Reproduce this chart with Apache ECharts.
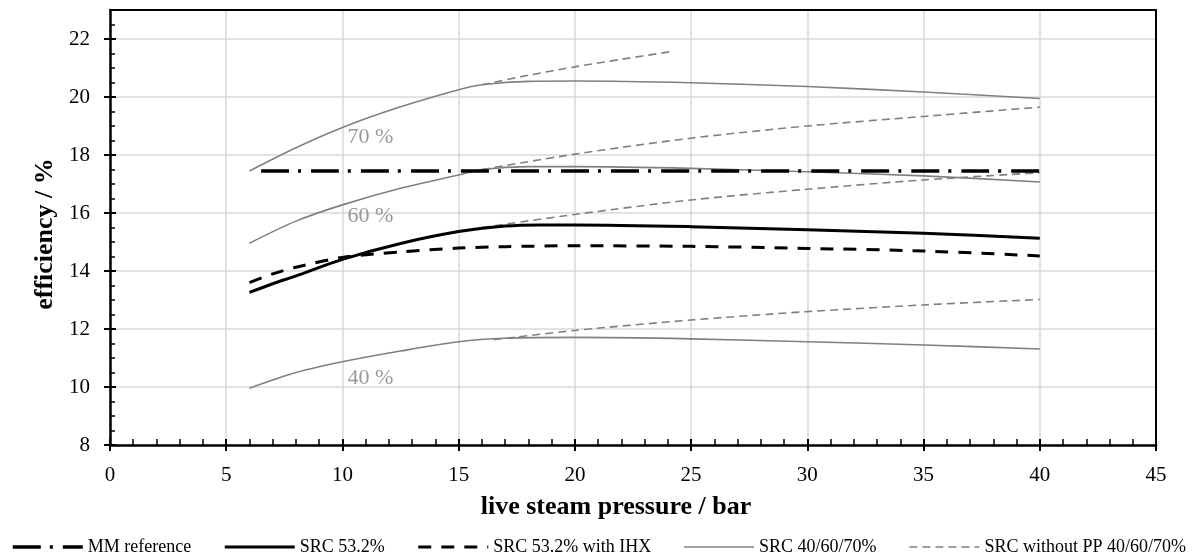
<!DOCTYPE html>
<html>
<head>
<meta charset="UTF-8">
<title>efficiency vs live steam pressure</title>
<style>
  html, body { margin: 0; padding: 0; background: #fff; }
  #chart { width: 1197px; height: 559px; }
</style>
<script src="https://cdn.jsdelivr.net/npm/echarts@6/dist/echarts.min.js"></script>
</head>
<body>
<div id="chart"></div>
<script>
// values: [pressure / bar, efficiency / %]
const mmReference = [[6.5, 17.45], [40, 17.45]];
const src532 = [[6, 13.26], [7, 13.56], [8, 13.83], [10, 14.40], [12.5, 14.95], [15, 15.36], [17, 15.55],
  [18.5, 15.59], [20, 15.59], [25, 15.53], [30, 15.42], [35, 15.30], [40, 15.13]];
const src532Ihx = [[6, 13.6], [7, 13.9], [8, 14.13], [10, 14.47], [12.5, 14.66], [15, 14.79], [17, 14.84],
  [20, 14.87], [25, 14.85], [30, 14.78], [35, 14.69], [40, 14.52]];
const src70 = [[6, 17.45], [8, 18.25], [10, 18.95], [12.5, 19.66], [15, 20.25], [16, 20.42], [18, 20.54],
  [20, 20.55], [25, 20.49], [30, 20.36], [35, 20.17], [40, 19.95]];
const src60 = [[6, 14.96], [8, 15.72], [10, 16.28], [12.5, 16.85], [15, 17.31], [16, 17.5], [18, 17.6],
  [20, 17.6], [25, 17.54], [30, 17.42], [35, 17.28], [40, 17.07]];
const src40 = [[6, 9.96], [8, 10.5], [10, 10.87], [12.5, 11.24], [15, 11.56], [17, 11.68], [20, 11.71],
  [25, 11.66], [30, 11.56], [35, 11.45], [40, 11.31]];
const noPP70 = [[16, 20.42], [18, 20.75], [20, 21.04], [22, 21.3], [24.1, 21.56]];
const noPP60 = [[16, 17.5], [20, 18.03], [25, 18.58], [30, 19.0], [35, 19.33], [40, 19.65]];
const noPP532 = [[16, 15.5], [20, 15.95], [25, 16.45], [30, 16.82], [35, 17.14], [40, 17.39]];
const noPP40 = [[16.5, 11.63], [20, 11.95], [25, 12.31], [30, 12.6], [35, 12.83], [40, 13.02]];

const curveLabels = ['70 %', '60 %', '40 %'];
const curveLabelAt = [[10.2, 18.6], [10.2, 15.9], [10.2, 10.3]];

const legendNames = ['MM reference', 'SRC 53.2%', 'SRC 53.2% with IHX', 'SRC 40/60/70%', 'SRC without PP 40/60/70%'];

const serif = "'Liberation Serif', 'Times New Roman', serif";
const gray = '#808080';

const chart = echarts.init(document.getElementById('chart'));

// a line series helper
const line = (name, data, style, z) => ({
  name: name,
  type: 'line',
  data: data,
  symbol: 'none',
  smooth: 0.3,
  lineStyle: style,
  itemStyle: { color: style.color },
  z: z || 2,
  xAxisIndex: 0,
  yAxisIndex: 0
});

// bare axis used only for its line (top / right frame)
const frameAxis = (pos, min, max) => ({
  type: 'value', position: pos, min: min, max: max,
  axisLine: { show: true, onZero: false, lineStyle: { color: '#000', width: 2 } },
  axisTick: { show: false }, axisLabel: { show: false }, splitLine: { show: false }
});

const solidGray = { color: gray, width: 1.6 };
const dashGray = { color: gray, width: 1.6, type: [8, 5] };

chart.setOption({
  animation: false,
  textStyle: { fontFamily: serif },
  grid: { left: 110, right: 41, top: 10, bottom: 114 },
  legend: {
    data: legendNames,
    left: 'center',
    top: 533,
    itemWidth: 70,
    itemHeight: 14,
    itemGap: 32,
    itemStyle: { opacity: 0 },
    lineStyle: { width: 'inherit' },
    textStyle: { fontFamily: serif, fontSize: 18, color: '#000' }
  },
  xAxis: [
    {
      type: 'value', position: 'bottom', min: 0, max: 45, interval: 5,
      name: 'live steam pressure / bar', nameLocation: 'middle', nameGap: 49,
      nameTextStyle: { fontFamily: serif, fontSize: 26, fontWeight: 'bold', color: '#000', padding: [0, 34, 0, 0] },
      axisLine: { lineStyle: { color: '#000', width: 2.5 } },
      axisTick: { show: true, inside: false, length: 6, lineStyle: { color: '#000', width: 2 } },
      axisLabel: { fontFamily: serif, fontSize: 21, color: '#000', margin: 20 },
      splitLine: { show: true, lineStyle: { color: '#d9d9d9', width: 1.5 } }
    },
    {
      type: 'value', position: 'bottom', min: 0, max: 45, interval: 5,
      axisLine: { show: false },
      axisTick: { show: true, inside: true, length: 6, lineStyle: { color: '#000', width: 2 } },
      minorTick: { show: true, splitNumber: 5, length: 6, lineStyle: { color: '#000', width: 1.5 } },
      axisLabel: { show: false },
      splitLine: { show: false }
    },
    frameAxis('top', 0, 45)
  ],
  yAxis: [
    {
      type: 'value', position: 'left', min: 8, max: 23, interval: 2,
      name: 'efficiency / %', nameLocation: 'middle', nameGap: 52,
      nameTextStyle: { fontFamily: serif, fontSize: 26, fontWeight: 'bold', color: '#000', padding: [0, 13, 0, 0] },
      axisLine: { show: true, lineStyle: { color: '#000', width: 2.5 } },
      axisTick: { show: true, inside: false, length: 6, lineStyle: { color: '#000', width: 2 } },
      axisLabel: { fontFamily: serif, fontSize: 21, color: '#000', margin: 20, showMaxLabel: false },
      splitLine: { show: true, lineStyle: { color: '#d9d9d9', width: 1.5 } }
    },
    {
      type: 'value', position: 'left', min: 8, max: 23, interval: 2,
      axisLine: { show: false },
      axisTick: { show: true, inside: true, length: 6, lineStyle: { color: '#000', width: 2 } },
      minorTick: { show: true, splitNumber: 4, length: 5, lineStyle: { color: '#000', width: 1.5 } },
      axisLabel: { show: false },
      splitLine: { show: false }
    },
    frameAxis('right', 8, 23)
  ],
  series: [
    line('SRC 40/60/70%', src70, solidGray),
    line('SRC 40/60/70%', src60, solidGray),
    line('SRC 40/60/70%', src40, solidGray),
    line('SRC without PP 40/60/70%', noPP70, dashGray),
    line('SRC without PP 40/60/70%', noPP60, dashGray),
    line('SRC without PP 40/60/70%', noPP532, dashGray),
    line('SRC without PP 40/60/70%', noPP40, dashGray),
    line('SRC 53.2% with IHX', src532Ihx, { color: '#000', width: 3, type: [13, 10] }, 3),
    line('SRC 53.2%', src532, { color: '#000', width: 3 }, 4),
    line('MM reference', mmReference, { color: '#000', width: 3.5, type: [28, 9, 3, 10] }, 5),
    {
      name: 'labels',
      type: 'scatter',
      symbolSize: 1,
      itemStyle: { color: 'transparent' },
      data: curveLabelAt.map((p, i) => ({ value: p, name: curveLabels[i] })),
      label: {
        show: true, position: 'right', distance: 0,
        formatter: p => p.name,
        fontFamily: serif, fontSize: 22, color: gray
      },
      silent: true,
      z: 6
    }
  ]
});
</script>
</body>
</html>
